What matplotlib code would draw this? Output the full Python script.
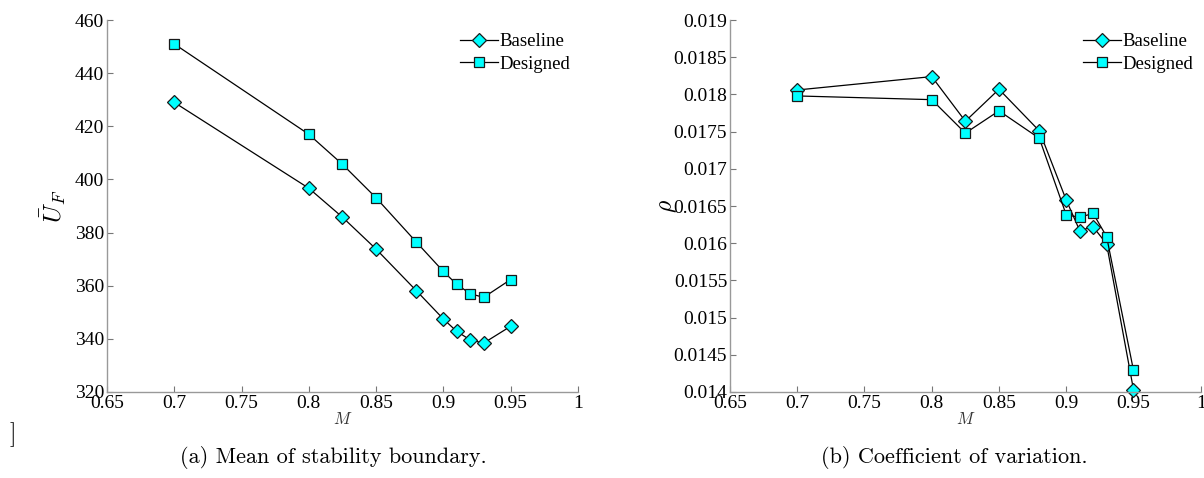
import matplotlib
matplotlib.use("Agg")
import matplotlib.pyplot as plt

plt.rcParams["font.family"] = ["Liberation Serif", "DejaVu Serif"]
plt.rcParams["mathtext.fontset"] = "cm"

mach = [0.7, 0.8, 0.825, 0.85, 0.88, 0.9, 0.91, 0.92, 0.93, 0.95]

# mean of the flutter boundary
uf_baseline = [429.0, 396.7, 385.8, 373.8, 358.1, 347.5, 342.8, 339.6, 338.4, 344.7]
uf_designed = [451.0, 417.0, 405.7, 393.1, 376.4, 365.4, 360.5, 357.0, 355.6, 362.3]

# coefficient of variation
rho_baseline = [0.01806, 0.01824, 0.01764, 0.01807, 0.01751, 0.01658, 0.01617, 0.01622, 0.01599, 0.01403]
rho_designed = [0.01798, 0.01793, 0.01748, 0.01778, 0.01741, 0.01638, 0.01635, 0.01640, 0.01609, 0.01429]

xticks = [0.65, 0.7, 0.75, 0.8, 0.85, 0.9, 0.95, 1.0]
xtick_labels = ["0.65", "0.7", "0.75", "0.8", "0.85", "0.9", "0.95", "1"]
uf_ticks = [320, 340, 360, 380, 400, 420, 440, 460]
rho_ticks = [0.014, 0.0145, 0.015, 0.0155, 0.016, 0.0165, 0.017, 0.0175, 0.018, 0.0185, 0.019]
rho_labels = ["0.014", "0.0145", "0.015", "0.0155", "0.016", "0.0165", "0.017", "0.0175", "0.018", "0.0185", "0.019"]

CYAN = "#00FFFF"
EDGE = "#1a1a1a"


def style_axes(ax):
    ax.spines["top"].set_visible(False)
    ax.spines["right"].set_visible(False)
    for side in ("left", "bottom"):
        ax.spines[side].set_color("#999999")
        ax.spines[side].set_linewidth(1.0)
    ax.tick_params(direction="in", length=4, width=0.8, color="#777777",
                   labelsize=14, pad=2)
    ax.set_xlim(0.65, 1.0)
    ax.set_xticks(xticks)
    ax.set_xticklabels(xtick_labels)
    ax.set_xlabel("$M$", fontsize=12, labelpad=0, color="#333333")


def draw_series(ax, y_base, y_des):
    ax.plot(mach, y_base, color="black", lw=0.9, marker="D", ms=7.5,
            mfc=CYAN, mec=EDGE, mew=0.9, label="Baseline", clip_on=False)
    ax.plot(mach, y_des, color="black", lw=0.9, marker="s", ms=7.5,
            mfc=CYAN, mec=EDGE, mew=0.9, label="Designed", clip_on=False)
    ax.legend(loc="upper right", frameon=False, fontsize=13.5, handlelength=2.0,
              handletextpad=0.1, borderaxespad=0.0, labelspacing=0.3,
              bbox_to_anchor=(1.0, 0.985))


fig = plt.figure(figsize=(12.04, 4.78), dpi=100)
ax1 = fig.add_axes([0.0889, 0.180, 0.391, 0.778])
ax2 = fig.add_axes([0.6063, 0.180, 0.391, 0.778])

# left panel
draw_series(ax1, uf_baseline, uf_designed)
style_axes(ax1)
ax1.set_ylim(320, 460)
ax1.set_yticks(uf_ticks)
ax1.set_ylabel(r"$\bar{U}_F$", fontsize=18, labelpad=5)

# right panel
draw_series(ax2, rho_baseline, rho_designed)
style_axes(ax2)
ax2.set_ylim(0.014, 0.019)
ax2.set_yticks(rho_ticks)
ax2.set_yticklabels(rho_labels)
ax2.set_ylabel(r"$\rho$", fontsize=17, labelpad=-4)

fig.text(0.277, 0.042, "(a) Mean of stability boundary.", ha="center", va="center",
         fontsize=16, family="cmr10")
fig.text(0.793, 0.042, "(b) Coefficient of variation.", ha="center", va="center",
         fontsize=16, family="cmr10")
fig.text(0.011, 0.090, "]", ha="center", va="center", fontsize=17, family="cmr10")

fig.savefig("out.png", dpi=100)
